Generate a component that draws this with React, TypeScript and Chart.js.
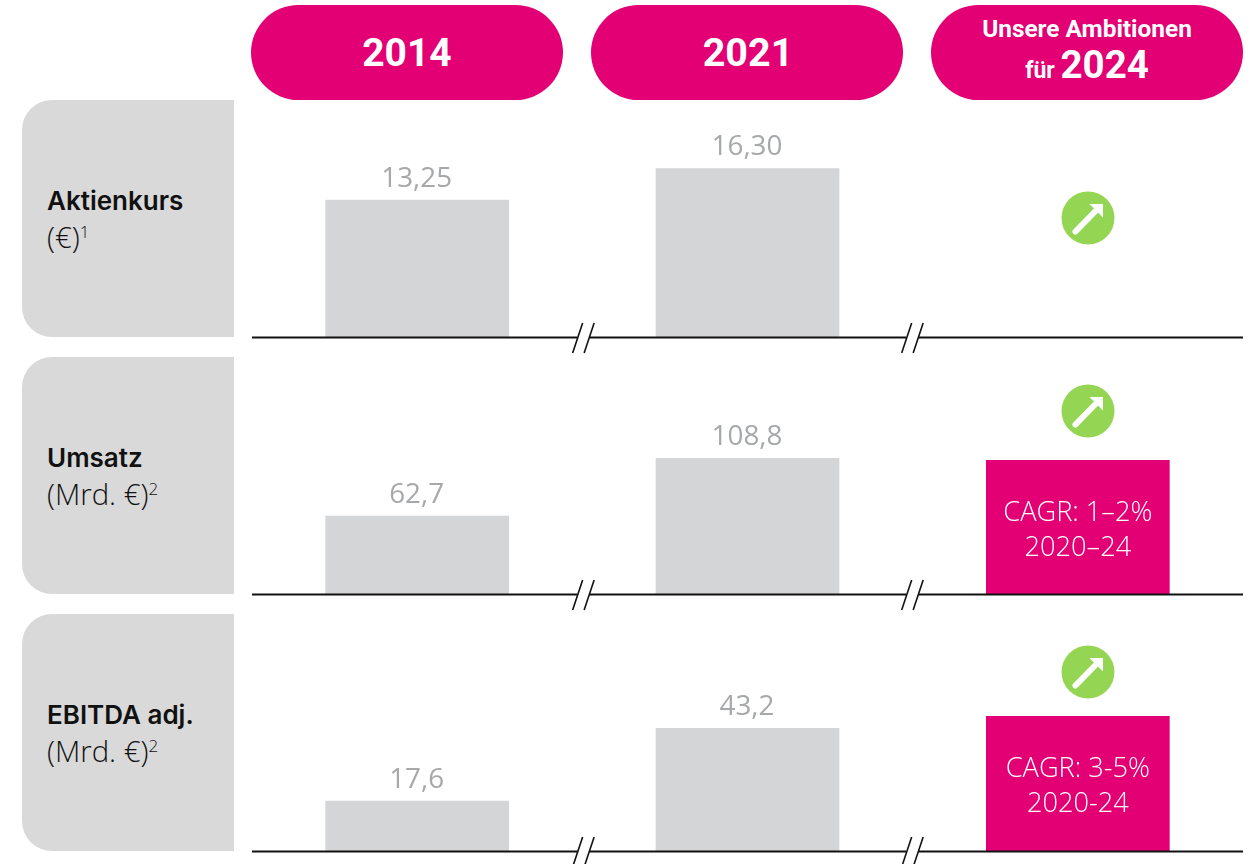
import React, { useEffect, useRef } from "react";
import { Chart, registerables } from "chart.js";

Chart.register(...registerables);

const categories = ["2014", "2021", "2024"];

const aktienkursValues = [13.25, 16.3, null];
const umsatzValues = [62.7, 108.8, 107.2];
const ebitdaValues = [17.6, 43.2, 47.4];

const aktienkursLabels = ["13,25", "16,30", ""];
const umsatzLabels = ["62,7", "108,8", ""];
const ebitdaLabels = ["17,6", "43,2", ""];

const umsatzBoxText = ["CAGR: 1–2%", "2020–24"];
const ebitdaBoxText = ["CAGR: 3-5%", "2020-24"];

const aktienkursMax = 22.7;
const umsatzMax = 188;
const ebitdaMax = 82.5;

const PINK = "#E20074";
const PANEL = "#D9D9D9";
const BAR = "#D4D5D7";
const LABEL = "#A6A8AA";
const GREEN = "#94D653";
const VALUE_FONT = '"Open Sans", sans-serif';
const HEAD_FONT = 'Roboto, sans-serif';
const ROW_FONT = 'Inter, sans-serif';

const PLOT_H = 235;
const PAD_B = 17;

const rowPlugin = {
  id: "rowDecor",
  afterDatasetsDraw(chart: any, _a: any, opts: any) {
    const { ctx, scales } = chart;
    const x = scales.x;
    const y0 = scales.y.getPixelForValue(0);
    const meta = chart.getDatasetMeta(0);
    ctx.save();
    // baseline with axis breaks between the categories
    const left = x.left;
    const right = x.right;
    const b1 = (x.getPixelForValue(0) + x.getPixelForValue(1)) / 2 + 0.8;
    const b2 = (x.getPixelForValue(1) + x.getPixelForValue(2)) / 2 - 0.5;
    ctx.strokeStyle = "#111111";
    ctx.lineWidth = 2;
    const ly = y0 + 0.5;
    ctx.beginPath();
    ctx.moveTo(left, ly);
    ctx.lineTo(b1 - 6, ly);
    ctx.moveTo(b1 + 6, ly);
    ctx.lineTo(b2 - 6, ly);
    ctx.moveTo(b2 + 6, ly);
    ctx.lineTo(right, ly);
    ctx.stroke();
    ctx.lineWidth = 1.6;
    for (const b of [b1, b2]) {
      for (const d of [-5.5, 6]) {
        ctx.beginPath();
        ctx.moveTo(b + d - 5, y0 + 16);
        ctx.lineTo(b + d + 5, y0 - 14);
        ctx.stroke();
      }
    }
    // value labels
    ctx.textAlign = "center";
    ctx.textBaseline = "alphabetic";
    ctx.fillStyle = LABEL;
    ctx.font = `27.8px ${VALUE_FONT}`;
    opts.labels.forEach((t: string, i: number) => {
      if (!t) return;
      const el = meta.data[i];
      ctx.fillText(t, el.x - 0.5, el.y - 13);
    });
    // text in the ambition box
    const box = meta.data[2];
    if (opts.boxText && box) {
      ctx.fillStyle = "#FFFFFF";
      ctx.font = `300 27.2px ${VALUE_FONT}`;
      opts.boxText.forEach((t: string, i: number) => {
        ctx.fillText(t, box.x, box.y + 61 + i * 35);
      });
    }
    ctx.restore();
  },
};

function RowChart(props: { top: number; values: (number | null)[]; labels: string[]; max: number; boxText?: string[] }) {
  const ref = useRef<HTMLCanvasElement>(null);
  useEffect(() => {
    const chart = new Chart(ref.current!, {
      type: "bar",
      data: {
        labels: categories,
        datasets: [
          {
            data: props.values as any,
            backgroundColor: [BAR, BAR, PINK],
            borderWidth: 0,
            categoryPercentage: 1,
            barPercentage: 0.556,
          },
        ],
      },
      options: {
        animation: false,
        responsive: false,
        layout: { padding: { left: 0, right: 0, top: 0, bottom: PAD_B } },
        scales: {
          x: { display: false },
          y: { display: false, min: 0, max: props.max },
        },
        plugins: {
          legend: { display: false },
          tooltip: { enabled: false },
          rowDecor: { labels: props.labels, boxText: props.boxText },
        } as any,
      },
      plugins: [rowPlugin],
    });
    return () => chart.destroy();
  }, []);
  return (
    <canvas
      ref={ref}
      width={991}
      height={PLOT_H + PAD_B}
      style={{ position: "absolute", left: 252, top: props.top, width: 991, height: PLOT_H + PAD_B }}
    />
  );
}

function Pill(props: { left: number; children: React.ReactNode }) {
  return (
    <div
      style={{
        position: "absolute",
        left: props.left,
        top: 5,
        width: 312,
        height: 95,
        borderRadius: 47.5,
        background: PINK,
        color: "#fff",
        fontFamily: HEAD_FONT,
        fontWeight: 700,
        display: "flex",
        flexDirection: "column",
        alignItems: "center",
        justifyContent: "center",
        textAlign: "center",
      }}
    >
      {props.children}
    </div>
  );
}

function RowPanel(props: { top: number; title: string; unit: string; sup: string; titleTop: number }) {
  return (
    <div
      style={{
        position: "absolute",
        left: 22,
        top: props.top,
        width: 212,
        height: 237,
        background: PANEL,
        borderRadius: "30px 0 0 30px",
      }}
    >
      <div
        style={{
          position: "absolute",
          left: 25,
          top: props.titleTop,
          fontFamily: ROW_FONT,
          fontWeight: 600,
          fontSize: 26,
          lineHeight: "30px",
          color: "#111",
          whiteSpace: "nowrap",
        }}
      >
        {props.title}
      </div>
      <div
        style={{
          position: "absolute",
          left: 25,
          top: props.titleTop + 34,
          fontFamily: VALUE_FONT,
          fontWeight: 300,
          fontSize: 29.3,
          lineHeight: "34px",
          color: "#111",
          whiteSpace: "nowrap",
        }}
      >
        {props.unit}
        <span style={{ fontSize: 17, position: "relative", top: -10 }}>{props.sup}</span>
      </div>
    </div>
  );
}

function UpArrow(props: { cx: number; cy: number }) {
  return (
    <svg
      width={54}
      height={54}
      viewBox="-27 -27 54 54"
      style={{ position: "absolute", left: props.cx - 27, top: props.cy - 27 }}
    >
      <circle cx={0} cy={0} r={26.5} fill={GREEN} />
      <line x1={-12.5} y1={13.5} x2={10} y2={-9.5} stroke="#fff" strokeWidth={6} strokeLinecap="round" />
      <polygon points="1.5,-14 15,-14 15,-0.5" fill="#fff" />
    </svg>
  );
}

export default function App() {
  return (
    <div style={{ position: "absolute", left: 0, top: 0, width: 1253, height: 864, overflow: "hidden", background: "#fff" }}>
      <Pill left={251}>
        <span style={{ fontSize: 39, lineHeight: "44px" }}>2014</span>
      </Pill>
      <Pill left={591}>
        <span style={{ fontSize: 39.5, lineHeight: "44px", marginLeft: 2 }}>2021</span>
      </Pill>
      <Pill left={931}>
        <span style={{ fontSize: 24.4, lineHeight: "30px", marginTop: 1 }}>Unsere Ambitionen</span>
        <span style={{ fontSize: 23, lineHeight: "42px" }}>
          für <span style={{ fontSize: 38.5 }}>2024</span>
        </span>
      </Pill>

      <RowPanel top={100} title="Aktienkurs" unit="(€)" sup="1" titleTop={86} />
      <RowPanel top={357} title="Umsatz" unit="(Mrd. €)" sup="2" titleTop={86} />
      <RowPanel top={614} title="EBITDA adj." unit="(Mrd. €)" sup="2" titleTop={86} />

      <RowChart top={102} values={aktienkursValues} labels={aktienkursLabels} max={aktienkursMax} />
      <RowChart top={359} values={umsatzValues} labels={umsatzLabels} max={umsatzMax} boxText={umsatzBoxText} />
      <RowChart top={616} values={ebitdaValues} labels={ebitdaLabels} max={ebitdaMax} boxText={ebitdaBoxText} />

      <UpArrow cx={1088} cy={218} />
      <UpArrow cx={1088} cy={411} />
      <UpArrow cx={1088} cy={672} />
    </div>
  );
}
